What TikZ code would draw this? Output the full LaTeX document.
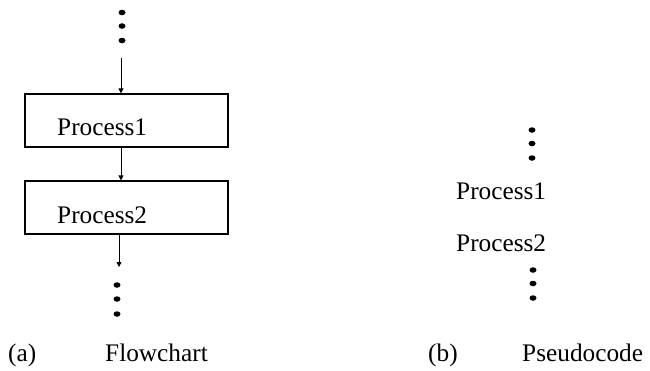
\documentclass[tikz,border=0pt]{standalone}
\usepackage{fontspec}
\setmainfont{Liberation Serif}
\usetikzlibrary{arrows.meta,shapes.geometric}
\begin{document}
\begin{tikzpicture}[x=1pt,y=-1pt,
  vdot/.style={ellipse,fill=black,inner sep=0pt,minimum width=7pt,minimum height=5.5pt},
  procbox/.style={draw,line width=1.2pt,minimum width=203pt,minimum height=53pt,inner sep=0pt},
  lbl/.style={font=\fontsize{25.3}{30}\selectfont,anchor=base west,inner sep=0pt},
  arr/.style={line width=0.8pt,-{Triangle[length=5pt,width=5pt]}}]
\useasboundingbox (0,0) rectangle (650,370);
% (a) flowchart
\node[vdot] (t1) at (122,12.5) {};
\node[vdot] (t2) at (122,26) {};
\node[vdot] (t3) at (122,40.5) {};
\coordinate (tstart) at (121,58);
\node[procbox] (b1) at (126.5,120.5) {};
\node[lbl] (p1) at (57,135) {Process1};
\node[procbox] (b2) at (126.5,207.5) {};
\node[lbl] (p2) at (57,223) {Process2};
\coordinate (bend) at (119,267);
\node[vdot] (u1) at (117,285) {};
\node[vdot] (u2) at (117,299) {};
\node[vdot] (u3) at (117,314) {};
\draw[arr] (tstart) -- (tstart |- b1.north);
\draw[arr] (b1.south -| tstart) -- (b2.north -| tstart);
\draw[arr] (b2.south -| bend) -- (bend);
\node[lbl] (ca) at (8,361) {(a)};
\node[lbl] (fa) at (105,361) {Flowchart};
% (b) pseudocode
\node[vdot] (s1) at (532,130) {};
\node[vdot] (s2) at (532,143.5) {};
\node[vdot] (s3) at (532,158) {};
\node[lbl] (q1) at (456,199) {Process1};
\node[lbl] (q2) at (456,251) {Process2};
\node[vdot] (v1) at (533,270) {};
\node[vdot] (v2) at (533,283.5) {};
\node[vdot] (v3) at (533,298) {};
\node[lbl] (cb) at (428,361) {(b)};
\node[lbl] (fb) at (522,361) {Pseudocode};
\end{tikzpicture}
\end{document}
